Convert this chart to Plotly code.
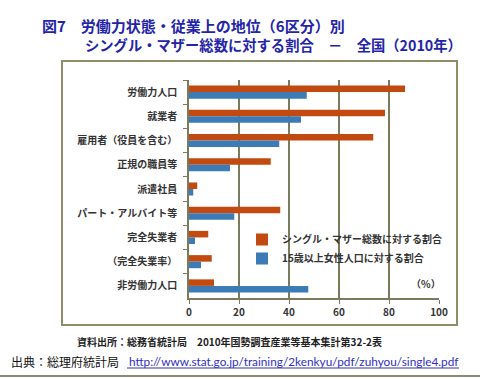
import plotly.graph_objects as go

categories = ["労働力人口", "就業者", "雇用者（役員を含む）", "正規の職員等", "派遣社員",
              "パート・アルバイト等", "完全失業者", "（完全失業率）", "非労働力人口"]
single_mother = [86.4, 78.4, 73.7, 32.7, 3.3, 36.5, 7.7, 9.1, 10.0]
female_15plus = [47.1, 44.8, 36.1, 16.4, 1.7, 18.1, 2.4, 4.8, 47.7]
series_names = ["シングル・マザー総数に対する割合", "15歳以上女性人口に対する割合"]
x_ticks = [0, 20, 40, 60, 80, 100]

JP = "Noto Sans CJK JP"
ORANGE = "#C24A10"
BLUE = "#3C7BB5"
GRID = "#7A7A5C"
FRAME = "#8E8E68"

fig = go.Figure()
fig.add_trace(go.Bar(y=categories, x=single_mother, orientation="h", name=series_names[0],
                     marker=dict(color=ORANGE, line=dict(width=0))))
fig.add_trace(go.Bar(y=categories, x=female_15plus, orientation="h", name=series_names[1],
                     marker=dict(color=BLUE, line=dict(width=0))))

L, R, T, B = 189, 439, 80, 298
W, H = 480, 379
pw, ph = R - L, B - T

def px(x):
    return (x - L) / pw

def py(y):
    return (B - y) / ph

fig.update_layout(
    width=W, height=H,
    margin=dict(l=L, r=W - R, t=T, b=H - B, pad=0),
    paper_bgcolor="white", plot_bgcolor="white",
    barmode="group", bargap=0.46, bargroupgap=0,
    font=dict(family=JP, color="#333333"),
    showlegend=True,
    legend=dict(x=px(242), y=py(225), xanchor="left", yanchor="top",
                traceorder="normal", bgcolor="rgba(0,0,0,0)",
                font=dict(family=JP, size=10, color="#333333", weight="bold"),
                itemwidth=30, tracegroupgap=4),
    xaxis=dict(range=[0, 100], tickvals=x_ticks, showgrid=True, gridcolor=GRID, gridwidth=1.5,
               showline=True, linecolor=GRID, linewidth=1.5, ticks="outside", ticklen=4,
               tickcolor=GRID, tickfont=dict(family=JP, size=10, color="#333333", weight="bold"),
               zeroline=False, fixedrange=True),
    yaxis=dict(autorange="reversed", showline=True, linecolor=GRID, linewidth=1.5,
               ticks="outside", ticklen=4, tickcolor=GRID, tickson="boundaries",
               ticklabelstandoff=8,
               tickfont=dict(family=JP, size=10, color="#333333", weight="bold"),
               showgrid=False, fixedrange=True),
)

shapes = [
    dict(type="rect", xref="paper", yref="paper", x0=px(62), x1=px(457), y0=py(325), y1=py(61),
         line=dict(color=FRAME, width=2), fillcolor="rgba(0,0,0,0)", layer="above"),
    dict(type="line", xref="paper", yref="paper", x0=px(0), x1=px(480), y0=py(376), y1=py(376),
         line=dict(color="#8A8A70", width=2)),
    dict(type="line", xref="paper", yref="paper", x0=px(127), x1=px(459), y0=py(368), y1=py(368),
         line=dict(color="#3030C0", width=1)),
]
fig.update_layout(shapes=shapes)

TITLE_C = "#2424A8"
ann = [
    dict(text="<b>図7　労働力状態・従業上の地位（6区分）別</b>", x=px(40), y=py(26),
         xanchor="left", yanchor="middle", font=dict(family=JP, size=15, color=TITLE_C)),
    dict(text="<b>シングル・マザー総数に対する割合　－　全国（2010年）</b>", x=px(83), y=py(44),
         xanchor="left", yanchor="middle", font=dict(family=JP, size=14.3, color=TITLE_C)),
    dict(text="<b>（%）</b>", x=px(443), y=py(283), xanchor="right", yanchor="middle",
         font=dict(family=JP, size=10, color="#333333")),
    dict(text="<b>資料出所：総務省統計局　2010年国勢調査産業等基本集計第32-2表</b>", x=px(229), y=py(341),
         xanchor="center", yanchor="middle", font=dict(family=JP, size=10, color="#222222")),
    dict(text="出典：総理府統計局", x=px(9), y=py(361), xanchor="left", yanchor="middle",
         font=dict(family=JP, size=12, color="#111111")),
    dict(text="http://www.stat.go.jp/training/2kenkyu/pdf/zuhyou/single4.pdf", x=px(127), y=py(361),
         xanchor="left", yanchor="middle", font=dict(family="Lato", size=11.8, color="#3030C0")),
]
for a in ann:
    a.update(xref="paper", yref="paper", showarrow=False)
fig.update_layout(annotations=ann)

fig.write_html("out.html", config={"displayModeBar": False},
               post_script="document.body.style.margin='0';")
